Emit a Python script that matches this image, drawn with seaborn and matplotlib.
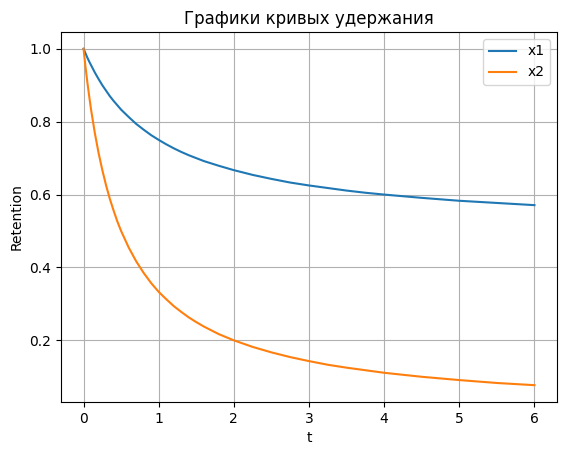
import matplotlib
matplotlib.use('Agg')
import matplotlib.pyplot as plt
import seaborn as sns
import pandas as pd

# Values
t = [0, 0.025, 0.05, 0.075, 0.1, 0.15, 0.2, 0.25, 0.3, 0.35, 0.4, 0.45, 0.5,
     0.6, 0.7, 0.8, 0.9, 1.0, 1.1, 1.2, 1.3, 1.4, 1.5, 1.6, 1.8, 2.0,
     2.25, 2.5, 2.75, 3.0, 3.25, 3.5, 3.75, 4.0, 4.5, 5.0, 5.5, 6.0]
x1 = [1.0, 0.988, 0.976, 0.965, 0.955, 0.935, 0.917, 0.900, 0.885, 0.870,
      0.857, 0.845, 0.833, 0.813, 0.794, 0.778, 0.763, 0.750, 0.738, 0.727,
      0.717, 0.708, 0.700, 0.692, 0.679, 0.667, 0.654, 0.643, 0.633, 0.625,
      0.618, 0.611, 0.605, 0.600, 0.591, 0.583, 0.577, 0.571]
x2 = [1.0, 0.952, 0.909, 0.870, 0.833, 0.769, 0.714, 0.667, 0.625, 0.588,
      0.556, 0.526, 0.500, 0.455, 0.417, 0.385, 0.357, 0.333, 0.313, 0.294,
      0.278, 0.263, 0.250, 0.238, 0.217, 0.200, 0.182, 0.167, 0.154, 0.143,
      0.133, 0.125, 0.118, 0.111, 0.100, 0.091, 0.083, 0.077]

df = pd.DataFrame({'t': t, 'x1': x1, 'x2': x2})

fig, ax = plt.subplots(figsize=(5.67, 4.55), dpi=100)
fig.subplots_adjust(left=0.1076, right=0.9824, top=0.9297, bottom=0.1165)

sns.lineplot(data=df, x='t', y='x1', ax=ax, color='tab:blue', label='x1')
sns.lineplot(data=df, x='t', y='x2', ax=ax, color='tab:orange', label='x2')

ax.set_title('Графики кривых удержания')
ax.set_xlabel('t')
ax.set_ylabel('Retention')
ax.grid(True)
ax.legend(loc='upper right')

fig.savefig('out.png', dpi=100)
